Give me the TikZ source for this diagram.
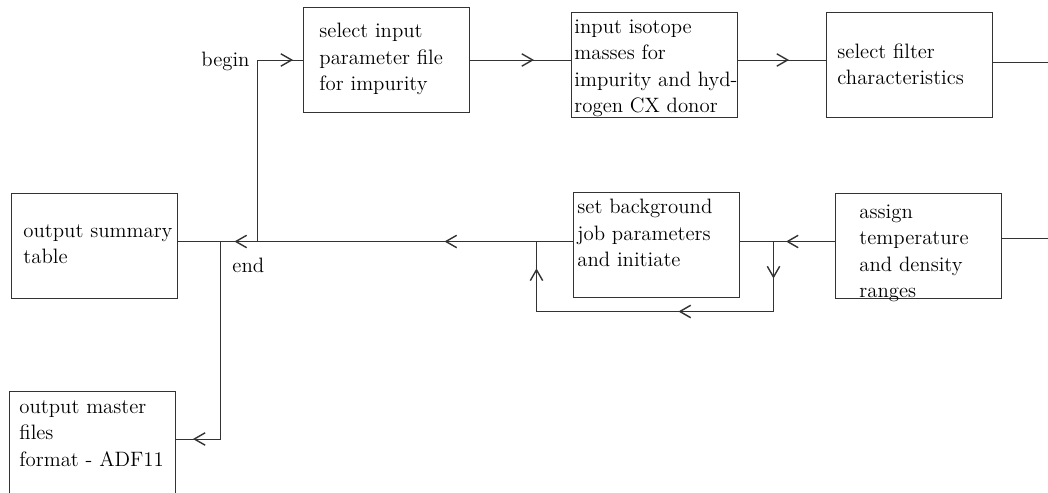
\documentclass[tikz,border=0pt]{standalone}
\usetikzlibrary{arrows.meta,decorations.markings}

\tikzset{
  chev/.tip={Straight Barb[length=2.7mm,width=3.1mm,line width=1pt]},
  chevat/.style={postaction={decorate,decoration={markings,
      mark=at position #1 with {\arrow{chev}}}}},
  box/.style={draw,minimum width=4.15cm,minimum height=2.625cm,inner sep=0pt},
  boxtext/.style={anchor=north west,inner sep=0pt,align=left,
      font=\fontsize{14.8}{18.85}\selectfont},
  tag/.style={inner sep=0pt,font=\fontsize{14.8}{18.85}\selectfont}
}

\begin{document}
\begin{tikzpicture}[x=0.025cm,y=-0.025cm,line width=0.65pt,draw=black!80]
\clip (0,0) rectangle (1048,493);

% top row
\node[box] (selfile) at (386.5,60) {};
\node[boxtext] (selfile-t) at (319,23) {select input\\parameter file\\for impurity};

\node[box] (isomass) at (654.5,64.5) {};
\node[boxtext] (isomass-t) at (574,19) {input isotope\\masses for\\impurity and hyd-\\rogen CX donor};

\node[box] (filter) at (909.5,64.5) {};
\node[boxtext] (filter-t) at (837,43) {select filter\\characteristics};

% middle row
\node[box] (summary) at (94.5,245.5) {};
\node[boxtext] (summary-t) at (23,224) {output summary\\table};

\node[box] (setjob) at (656,244.5) {};
\node[boxtext] (setjob-t) at (577,199) {set background\\job parameters\\and initiate};

\node[box] (temprange) at (918.5,245.5) {};
\node[boxtext] (temprange-t) at (859,204) {assign\\temperature\\and density\\ranges};

% bottom
\node[box] (master) at (92,443.5) {};
\node[boxtext] (master-t) at (19,400) {output master\\files\\format - ADF11};

% junctions on the return line
\coordinate (jbeg) at (257.5,241.5);
\coordinate (jend) at (220.5,241.5);
\coordinate (jloopr) at (773.5,241.5);
\coordinate (jloopl) at (536.5,241.5);

\node[tag,anchor=base east] (begin) at (250,66) {begin};
\node[tag,anchor=base west] (end) at (232,272) {end};

% forward path along the top
\draw[chevat=5.425cm] (jbeg) |- (selfile.west);
\draw[chevat=1.6cm] (selfile.east) -- (selfile.east -| isomass.west);
\draw[chevat=1.275cm] (selfile.east -| isomass.east) -- (selfile.east -| filter.west);
\draw ([yshift=1.8pt]filter.east) -- +(3cm,0);

% coming back on the middle row
\draw ([yshift=5.3pt]temprange.east) -- +(3cm,0);
\draw[chevat=1.225cm] (jloopr -| temprange.west) -- (jloopr) -- (jloopr -| setjob.east);
\draw[chevat=0.925cm,chevat=4.125cm,chevat=8.75cm] (jloopr) -- ++(0,70) -| (jloopl);
\draw[chevat=3.2cm,chevat=8.45cm] (jloopl -| setjob.west) -- (jbeg) -- (jend) -- (jend -| summary.east);
\draw[chevat=5.625cm] (jend) |- ([yshift=3.2pt]master.east);
\end{tikzpicture}
\end{document}
